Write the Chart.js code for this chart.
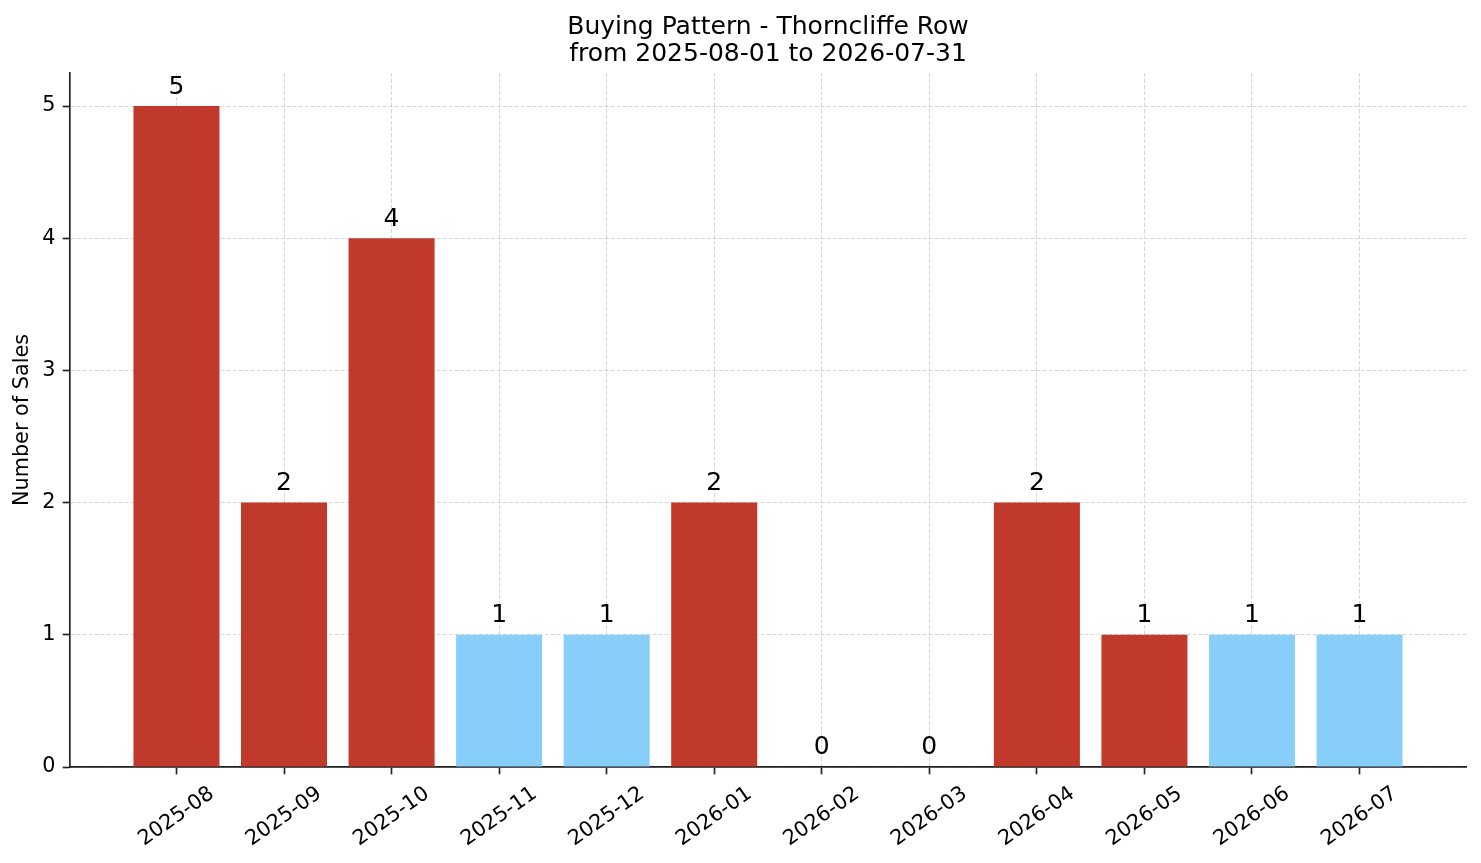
<!DOCTYPE html>
<html>
<head>
<meta charset="utf-8">
<script src="https://cdn.jsdelivr.net/npm/chart.js@4.4.1/dist/chart.umd.min.js"></script>
<style>
  html, body { margin: 0; padding: 0; background: #ffffff; }
  #wrap { width: 1481px; height: 863px; position: relative; }
</style>
</head>
<body>
<div id="wrap"><canvas id="c" width="1481" height="863"></canvas></div>
<script>
// ---- data ----
const months = ['2025-08','2025-09','2025-10','2025-11','2025-12','2026-01','2026-02','2026-03','2026-04','2026-05','2026-06','2026-07'];
const sales = [5, 2, 4, 1, 1, 2, 0, 0, 2, 1, 1, 1];
const yTicks = [0, 1, 2, 3, 4, 5];
const titleLines = ['Buying Pattern - Thorncliffe Row', 'from 2025-08-01 to 2026-07-31'];
const yAxisTitle = 'Number of Sales';

// ---- styles ----
const RED = '#c0392b';
const BLUE = '#87cefa';
const barColors = [RED, RED, RED, BLUE, BLUE, RED, RED, RED, RED, RED, BLUE, BLUE];
const FONT = '"DejaVu Sans", "Liberation Sans", sans-serif';
const TICK_SIZE = 20.8;
const TITLE_SIZE = 25;
const VALUE_SIZE = 25;
const GRID = 'rgba(176,176,176,0.5)';
const ROT = 35;

// measure label width for centered rotated labels
const mctx = document.createElement('canvas').getContext('2d');
mctx.font = TICK_SIZE + 'px ' + FONT;
const labelW = mctx.measureText(months[0]).width;
const labelShift = labelW / 2 * Math.cos(ROT * Math.PI / 180);

const yMaxVal = Math.max(...sales) * 1.05;
const xMin = -0.4 - 0.05 * (months.length - 1 + 0.8);
const xMax = months.length - 1 + 0.4 + 0.05 * (months.length - 1 + 0.8);

const valueLabels = {
  id: 'valueLabels',
  afterDraw(chart) {
    const ctx = chart.ctx;
    const meta = chart.getDatasetMeta(0);
    const ys = chart.scales.y;
    ctx.save();
    ctx.font = VALUE_SIZE + 'px ' + FONT;
    ctx.fillStyle = '#000';
    ctx.textAlign = 'center';
    ctx.textBaseline = 'alphabetic';
    meta.data.forEach((el, i) => {
      const v = sales[i];
      const y = ys.getPixelForValue(v + 0.05) - 0.236 * VALUE_SIZE;
      ctx.fillText(String(v), el.x, y);
    });
    ctx.restore();
  }
};

new Chart(document.getElementById('c'), {
  type: 'bar',
  data: {
    datasets: [{
      data: sales.map((v, i) => ({ x: i, y: v })),
      backgroundColor: barColors,
      borderWidth: 0,
      barPercentage: 0.8,
      categoryPercentage: 1.0
    }]
  },
  options: {
    responsive: false,
    animation: false,
    devicePixelRatio: 1,
    layout: { padding: { left: 0, right: 15, top: 0, bottom: 0 } },
    plugins: {
      legend: { display: false },
      tooltip: { enabled: false },
      title: {
        display: true,
        fullSize: false,
        text: titleLines,
        color: '#000',
        font: { family: FONT, size: TITLE_SIZE, weight: 'normal', lineHeight: 1.1 },
        padding: { top: 13.25, bottom: 4.75 }
      }
    },
    scales: {
      x: {
        type: 'linear',
        min: xMin,
        max: xMax,
        offset: false,
        z: 1,
        afterFit(scale) { scale.height = 96; },
        afterBuildTicks(scale) {
          scale.ticks = months.map((m, i) => ({ value: i }));
        },
        ticks: {
          stepSize: 1,
          includeBounds: false,
          autoSkip: false,
          minRotation: ROT,
          maxRotation: ROT,
          padding: 7.3,
          labelOffset: labelShift,
          color: '#000',
          font: { family: FONT, size: TICK_SIZE },
          callback: (v) => months[v] !== undefined ? months[v] : ''
        },
        grid: {
          offset: false,
          color: GRID,
          lineWidth: 1,
          drawTicks: true,
          tickLength: 7.3,
          tickColor: '#222',
          tickWidth: 1.67,
          tickBorderDash: []
        },
        border: { display: true, color: '#222', width: 1.67, dash: [4, 2] }
      },
      y: {
        type: 'linear',
        min: 0,
        max: yMaxVal,
        z: 1,
        afterFit(scale) { scale.width = 70; },
        afterBuildTicks(scale) {
          scale.ticks = yTicks.map(v => ({ value: v }));
        },
        ticks: {
          stepSize: 1,
          includeBounds: false,
          padding: 7.3,
          color: '#000',
          font: { family: FONT, size: TICK_SIZE }
        },
        grid: {
          color: GRID,
          lineWidth: 1,
          drawTicks: true,
          tickLength: 7.3,
          tickColor: '#222',
          tickWidth: 1.67,
          tickBorderDash: []
        },
        border: { display: true, color: '#222', width: 1.67, dash: [4, 2] },
        title: {
          display: true,
          text: yAxisTitle,
          color: '#000',
          font: { family: FONT, size: TICK_SIZE, lineHeight: 1.2 },
          padding: { top: 10, bottom: 0 }
        }
      }
    }
  },
  plugins: [valueLabels]
});
</script>
</body>
</html>
